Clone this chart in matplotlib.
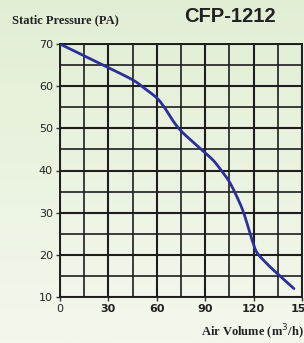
import matplotlib
matplotlib.use("Agg")
import matplotlib.pyplot as plt
import numpy as np

air_volume = [0, 15, 30, 45, 52, 60, 65, 70, 75, 82, 88, 95, 100, 105, 110, 114, 119, 122, 128, 134, 145]
pressure = [70, 67.2, 64.4, 61.5, 59.6, 57.2, 54.8, 51.8, 49.4, 46.9, 44.9, 42.4, 40, 37.3, 33.5, 29.8, 23.6, 20.6, 18, 15.8, 12]
x_ticks = [0, 30, 60, 90, 120, 150]
y_ticks = [10, 20, 30, 40, 50, 60, 70]
title = "CFP-1212"
ylabel = "Static Pressure (PA)"
xlabel = "Air Volume (m$^3$/h)"

fig = plt.figure(figsize=(3.04, 3.43), dpi=100)
bgax = fig.add_axes([0, 0, 1, 1], zorder=-1)
grad = np.linspace(0, 1, 256)[:, None]
from matplotlib.colors import LinearSegmentedColormap
cmap = LinearSegmentedColormap.from_list("bg", ["#e2eed4", "#f3f8ed"])
bgax.imshow(grad, aspect="auto", cmap=cmap, extent=[0, 1, 0, 1], origin="upper")
bgax.axis("off")

ax = fig.add_axes([60/304, 1-297/343, 242/304, 253/343])
ax.patch.set_alpha(0)

xs = np.array(air_volume, float); ys = np.array(pressure, float)
def catmull(x, y, n=12):
    px = np.concatenate([[2*x[0]-x[1]], x, [2*x[-1]-x[-2]]])
    py = np.concatenate([[2*y[0]-y[1]], y, [2*y[-1]-y[-2]]])
    ox, oy = [], []
    for i in range(1, len(px)-2):
        t = np.linspace(0, 1, n, endpoint=False)
        for arr, out in ((px, ox), (py, oy)):
            p0, p1, p2, p3 = arr[i-1], arr[i], arr[i+1], arr[i+2]
            out.extend(0.5*((2*p1) + (-p0+p2)*t + (2*p0-5*p1+4*p2-p3)*t**2 + (-p0+3*p1-3*p2+p3)*t**3))
    ox.append(x[-1]); oy.append(y[-1])
    return ox, oy
cx, cy = catmull(xs, ys)
ax.plot(cx, cy, color="#2b2f9c", lw=2.0, solid_capstyle="round", solid_joinstyle="round", zorder=3)

ax.set_xlim(0, 150)
ax.set_ylim(10, 70)
ax.set_xticks(x_ticks)
ax.set_yticks(y_ticks)
ax.set_xticks(np.arange(0, 151, 15), minor=True)
ax.set_yticks(np.arange(10, 71, 5), minor=True)
ax.grid(True, which="major", color="#1e1e1e", lw=1.5)
ax.grid(True, which="minor", color="#1e1e1e", lw=1.2)
for s in ax.spines.values():
    s.set_color("#1e1e1e"); s.set_linewidth(1.4)
ax.tick_params(which="minor", length=0)
ax.tick_params(which="major", length=3, width=1, color="#333333", pad=2)
ax.set_xticklabels([str(v) for v in x_ticks], fontweight="bold", fontsize=8)
ax.set_yticklabels([str(v) for v in y_ticks], fontsize=8)
ax.get_xticklabels()[0].set_fontweight("normal")
for lbl in ax.get_xticklabels() + ax.get_yticklabels():
    lbl.set_color("#222222")

fig.text(12/304, 1-20/343, ylabel, fontfamily="Liberation Serif", fontweight="bold", fontsize=9, va="center", ha="left", color="#222222")
fig.text(230/304, 1-16/343, title, fontfamily="Liberation Sans", fontweight="bold", fontsize=14.5, va="center", ha="center", color="#222222")
fig.text(304/304, 1-332/343, xlabel, fontfamily="Liberation Serif", fontweight="bold", fontsize=9, va="center", ha="right", color="#222222")

fig.savefig("out.png", dpi=100)
